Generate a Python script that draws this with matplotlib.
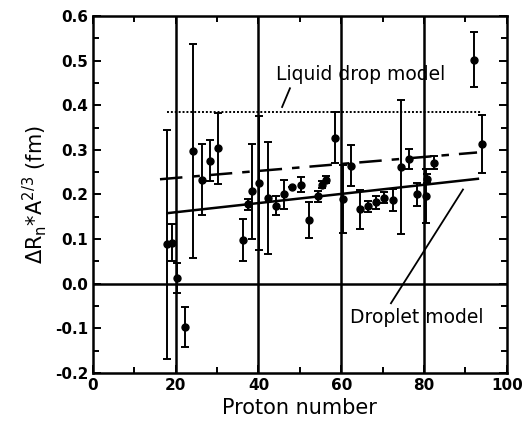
#!/usr/bin/env python3
"""Neutron skin scaled by A^2/3 versus proton number."""

import matplotlib

matplotlib.use("Agg")
import matplotlib.pyplot as plt
from matplotlib.ticker import MultipleLocator

# measured points: proton number, value (fm), symmetric error (fm)
proton = [18, 19, 20.3, 22.2, 24.2, 26.3, 28.3, 30.2, 36.2, 37.4, 38.4, 40.1,
          42.2, 44.2, 46.1, 48.1, 50.2, 52.2, 54.3, 55.3, 56.3, 58.5, 60.4,
          62.3, 64.5, 66.5, 68.4, 70.3, 72.4, 74.4, 76.3, 78.2, 80.4, 80.7,
          82.4, 92.1, 94.0]
delta_r = [0.088, 0.092, 0.012, -0.097, 0.298, 0.233, 0.275, 0.303, 0.098,
           0.178, 0.207, 0.225, 0.192, 0.175, 0.200, 0.216, 0.222, 0.142,
           0.196, 0.222, 0.233, 0.327, 0.189, 0.264, 0.167, 0.173, 0.182,
           0.193, 0.188, 0.262, 0.280, 0.200, 0.196, 0.235, 0.271, 0.502,
           0.313]
delta_err = [0.257, 0.042, 0.034, 0.045, 0.240, 0.080, 0.046, 0.080, 0.047,
             0.012, 0.107, 0.150, 0.125, 0.022, 0.032, 0.0, 0.017, 0.040,
             0.012, 0.008, 0.008, 0.057, 0.076, 0.046, 0.044, 0.012, 0.015,
             0.013, 0.025, 0.150, 0.022, 0.025, 0.060, 0.010, 0.015, 0.062,
             0.065]

# model curves
liquid_x = [18, 94]
liquid_y = [0.385, 0.385]
droplet_x = [18, 93]
droplet_y = [0.158, 0.235]
dashed_x = [16.2, 92.8]
dashed_y = [0.234, 0.294]

grid_x = [20, 40, 60, 80]
x_ticks = [0, 20, 40, 60, 80, 100]
y_ticks = [-0.2, -0.1, 0.0, 0.1, 0.2, 0.3, 0.4, 0.5, 0.6]

plt.rcParams["font.family"] = ["DejaVu Sans"]

fig = plt.figure(figsize=(5.22, 4.33), dpi=100)
ax = fig.add_axes([0.178, 0.139, 0.793, 0.824])

for gx in grid_x:
    ax.axvline(gx, color="black", lw=1.8, zorder=1)
ax.axhline(0.0, color="black", lw=1.8, zorder=1)

ax.plot(liquid_x, liquid_y, color="black", lw=1.4, ls=(0, (1, 1)), zorder=2)
ax.plot(droplet_x, droplet_y, color="black", lw=1.8, zorder=2)
ax.plot(dashed_x, dashed_y, color="black", lw=1.8, dashes=(9, 4, 3, 4), zorder=2)

ax.errorbar(proton, delta_r, yerr=delta_err, fmt="o", color="black",
            markersize=5, elinewidth=1.4, capsize=3, capthick=1.4, zorder=3)

ax.text(44.2, 0.469, "Liquid drop model", fontsize=13.5, va="center")
ax.plot([47.6, 45.7], [0.438, 0.396], color="black", lw=1.3)
ax.text(62.0, -0.076, "Droplet model", fontsize=13.5, va="center")
ax.plot([72.0, 89.4], [-0.044, 0.211], color="black", lw=1.3)

ax.set_xlim(0, 100)
ax.set_ylim(-0.2, 0.6)
ax.set_xticks(x_ticks)
ax.set_yticks(y_ticks)
ax.set_yticklabels([f"{v:.1f}" for v in y_ticks])
ax.xaxis.set_minor_locator(MultipleLocator(10))
ax.yaxis.set_minor_locator(MultipleLocator(0.05))
ax.tick_params(which="both", direction="in", top=True, right=True,
               labelsize=11, width=1.4)
ax.tick_params(which="major", length=6)
ax.tick_params(which="minor", length=4)
for label in ax.get_xticklabels() + ax.get_yticklabels():
    label.set_fontweight("bold")
for spine in ax.spines.values():
    spine.set_linewidth(1.8)

ax.set_xlabel("Proton number", fontsize=15)
ax.set_ylabel(r"$\mathit{\Delta}$R$_\mathrm{n}$*A$^{2/3}$ (fm)", fontsize=15)

fig.savefig("out.png", dpi=100)
